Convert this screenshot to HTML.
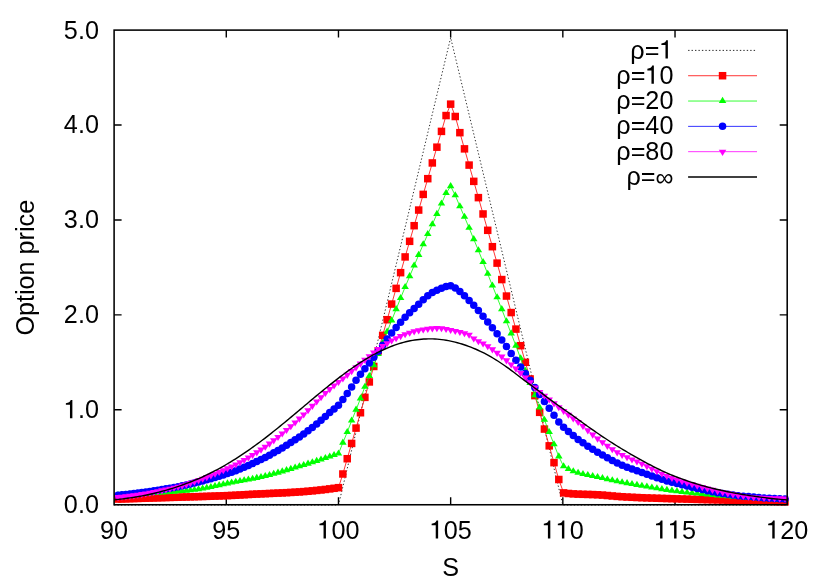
<!DOCTYPE html><html><head><meta charset="utf-8"><title>Option price</title><style>html,body{margin:0;padding:0;background:#fff}svg{display:block;will-change:transform}text{font-family:"Liberation Sans",sans-serif;font-size:25.2px;fill:#000}</style></head><body>
<svg width="830" height="581" viewBox="0 0 830 581">
<rect width="830" height="581" fill="#fff"/>
<path d="M226.28 504.75V497.25M226.28 30.1V37.6M338.47 504.75V497.25M338.47 30.1V37.6M450.65 504.75V497.25M450.65 30.1V37.6M562.83 504.75V497.25M562.83 30.1V37.6M675.02 504.75V497.25M675.02 30.1V37.6M114.1 409.82H121.6M787.2 409.82H779.7M114.1 314.89H121.6M787.2 314.89H779.7M114.1 219.96H121.6M787.2 219.96H779.7M114.1 125.03H121.6M787.2 125.03H779.7" stroke="#000" stroke-width="1.4" fill="none"/>
<text y="538.60" x="100.09 114.10">90</text>
<text y="538.60" x="212.27 226.28">95</text>
<text y="538.60" x="331.46 345.47">00</text><path transform="translate(317.44,538.60)" d="M8.5 0V-18.2H6.85C6.4-16.5 4.7-15.3 2-14.95V-13.4H6.1V0Z"/>
<text y="538.60" x="443.64 457.66">05</text><path transform="translate(429.63,538.60)" d="M8.5 0V-18.2H6.85C6.4-16.5 4.7-15.3 2-14.95V-13.4H6.1V0Z"/>
<text y="538.60" x="569.84">0</text><path transform="translate(541.81,538.60)" d="M8.5 0V-18.2H6.85C6.4-16.5 4.7-15.3 2-14.95V-13.4H6.1V0Z"/><path transform="translate(555.83,538.60)" d="M8.5 0V-18.2H6.85C6.4-16.5 4.7-15.3 2-14.95V-13.4H6.1V0Z"/>
<text y="538.60" x="682.02">5</text><path transform="translate(653.99,538.60)" d="M8.5 0V-18.2H6.85C6.4-16.5 4.7-15.3 2-14.95V-13.4H6.1V0Z"/><path transform="translate(668.01,538.60)" d="M8.5 0V-18.2H6.85C6.4-16.5 4.7-15.3 2-14.95V-13.4H6.1V0Z"/>
<text y="538.60" x="780.19 794.21">20</text><path transform="translate(766.18,538.60)" d="M8.5 0V-18.2H6.85C6.4-16.5 4.7-15.3 2-14.95V-13.4H6.1V0Z"/>
<text y="513.20" x="63.87 77.88 84.89">0.0</text>
<text y="418.27" x="77.88 84.89">.0</text><path transform="translate(63.87,418.27)" d="M8.5 0V-18.2H6.85C6.4-16.5 4.7-15.3 2-14.95V-13.4H6.1V0Z"/>
<text y="323.34" x="63.87 77.88 84.89">2.0</text>
<text y="228.41" x="63.87 77.88 84.89">3.0</text>
<text y="133.48" x="63.87 77.88 84.89">4.0</text>
<text y="38.55" x="63.87 77.88 84.89">5.0</text>
<text x="450.7" y="576.3" text-anchor="middle">S</text>
<text transform="translate(34.2,267.7) rotate(-90)" text-anchor="middle">Option price</text>
<g>
<polyline points="450.65,37.65 338.47,505.05 114.10,505.05" fill="none" stroke="#222" stroke-width="0.95" stroke-dasharray="1.3 2.15"/>
<polyline points="450.65,37.65 562.83,505.05 787.20,505.05" fill="none" stroke="#222" stroke-width="0.95" stroke-dasharray="1.3 2.15" stroke-dashoffset="1.7"/>
<polyline points="114.05,499.19 117.99,499.06 121.94,498.94 125.90,498.81 129.87,498.69 133.85,498.56 137.83,498.44 141.82,498.31 145.82,498.19 149.83,498.06 153.84,497.93 157.86,497.81 161.89,497.68 165.93,497.55 169.98,497.43 174.03,497.32 178.09,497.20 182.16,497.08 186.24,496.97 190.33,496.85 194.42,496.73 198.52,496.61 202.63,496.49 206.75,496.36 210.88,496.22 215.01,496.08 219.15,495.93 223.30,495.78 227.46,495.61 231.63,495.43 235.80,495.22 239.98,494.99 244.17,494.74 248.37,494.50 252.58,494.28 256.79,494.07 261.02,493.87 265.25,493.68 269.49,493.48 273.74,493.29 277.99,493.09 282.26,492.89 286.53,492.67 290.81,492.44 295.10,492.18 299.40,491.91 303.71,491.60 308.02,491.24 312.35,490.84 316.68,490.41 321.02,489.95 325.37,489.45 329.73,488.90 334.09,488.30 338.47,487.67 342.85,473.99 347.24,458.72 351.64,443.43 356.05,428.10 360.47,412.75 364.89,397.36 369.33,381.95 373.77,366.47 378.22,350.92 382.68,335.33 387.15,319.71 391.63,304.06 396.12,288.38 400.61,272.67 405.12,256.93 409.63,241.32 414.15,225.70 418.68,210.06 423.22,194.38 427.77,178.68 432.33,162.94 436.90,147.18 441.47,131.38 446.06,115.55 450.65,104.15 455.25,116.50 459.86,132.66 464.48,148.86 469.11,165.09 473.75,181.35 478.40,197.64 483.05,213.96 487.72,230.31 492.39,246.70 497.08,263.12 501.77,279.57 506.47,296.05 511.18,312.56 515.91,329.11 520.63,345.69 525.37,362.30 530.12,378.95 534.88,395.62 539.65,412.33 544.42,429.07 549.21,445.85 554.00,462.65 558.81,479.50 563.62,492.89 568.44,493.48 573.27,493.88 578.12,494.14 582.97,494.31 587.83,494.44 592.70,494.58 597.58,494.78 602.47,495.09 607.37,495.51 612.27,495.97 617.19,496.40 622.12,496.74 627.06,497.03 632.00,497.29 636.96,497.52 641.93,497.73 646.90,497.91 651.89,498.08 656.88,498.24 661.89,498.39 666.90,498.54 671.93,498.69 676.96,498.84 682.01,498.98 687.06,499.13 692.12,499.27 697.20,499.40 702.28,499.54 707.38,499.67 712.48,499.80 717.59,499.93 722.72,500.06 727.85,500.20 732.99,500.33 738.15,500.46 743.31,500.60 748.49,500.74 753.67,500.88 758.86,501.03 764.07,501.18 769.28,501.33 774.51,501.48 779.74,501.64 784.99,501.80" fill="none" stroke="#f00" stroke-width="0.8" />
<rect x="114.24" y="495.31" width="7.50" height="7.50" fill="#f00"/><rect x="118.19" y="495.19" width="7.50" height="7.50" fill="#f00"/><rect x="122.15" y="495.06" width="7.50" height="7.50" fill="#f00"/><rect x="126.12" y="494.94" width="7.50" height="7.50" fill="#f00"/><rect x="130.10" y="494.81" width="7.50" height="7.50" fill="#f00"/><rect x="134.08" y="494.69" width="7.50" height="7.50" fill="#f00"/><rect x="138.07" y="494.56" width="7.50" height="7.50" fill="#f00"/><rect x="142.07" y="494.44" width="7.50" height="7.50" fill="#f00"/><rect x="146.08" y="494.31" width="7.50" height="7.50" fill="#f00"/><rect x="150.09" y="494.18" width="7.50" height="7.50" fill="#f00"/><rect x="154.11" y="494.06" width="7.50" height="7.50" fill="#f00"/><rect x="158.14" y="493.93" width="7.50" height="7.50" fill="#f00"/><rect x="162.18" y="493.80" width="7.50" height="7.50" fill="#f00"/><rect x="166.23" y="493.68" width="7.50" height="7.50" fill="#f00"/><rect x="170.28" y="493.57" width="7.50" height="7.50" fill="#f00"/><rect x="174.34" y="493.45" width="7.50" height="7.50" fill="#f00"/><rect x="178.41" y="493.33" width="7.50" height="7.50" fill="#f00"/><rect x="182.49" y="493.22" width="7.50" height="7.50" fill="#f00"/><rect x="186.58" y="493.10" width="7.50" height="7.50" fill="#f00"/><rect x="190.67" y="492.98" width="7.50" height="7.50" fill="#f00"/><rect x="194.77" y="492.86" width="7.50" height="7.50" fill="#f00"/><rect x="198.88" y="492.74" width="7.50" height="7.50" fill="#f00"/><rect x="203.00" y="492.61" width="7.50" height="7.50" fill="#f00"/><rect x="207.13" y="492.47" width="7.50" height="7.50" fill="#f00"/><rect x="211.26" y="492.33" width="7.50" height="7.50" fill="#f00"/><rect x="215.40" y="492.18" width="7.50" height="7.50" fill="#f00"/><rect x="219.55" y="492.03" width="7.50" height="7.50" fill="#f00"/><rect x="223.71" y="491.86" width="7.50" height="7.50" fill="#f00"/><rect x="227.88" y="491.68" width="7.50" height="7.50" fill="#f00"/><rect x="232.05" y="491.47" width="7.50" height="7.50" fill="#f00"/><rect x="236.23" y="491.24" width="7.50" height="7.50" fill="#f00"/><rect x="240.42" y="490.99" width="7.50" height="7.50" fill="#f00"/><rect x="244.62" y="490.75" width="7.50" height="7.50" fill="#f00"/><rect x="248.83" y="490.53" width="7.50" height="7.50" fill="#f00"/><rect x="253.04" y="490.32" width="7.50" height="7.50" fill="#f00"/><rect x="257.27" y="490.12" width="7.50" height="7.50" fill="#f00"/><rect x="261.50" y="489.93" width="7.50" height="7.50" fill="#f00"/><rect x="265.74" y="489.73" width="7.50" height="7.50" fill="#f00"/><rect x="269.99" y="489.54" width="7.50" height="7.50" fill="#f00"/><rect x="274.24" y="489.34" width="7.50" height="7.50" fill="#f00"/><rect x="278.51" y="489.14" width="7.50" height="7.50" fill="#f00"/><rect x="282.78" y="488.92" width="7.50" height="7.50" fill="#f00"/><rect x="287.06" y="488.69" width="7.50" height="7.50" fill="#f00"/><rect x="291.35" y="488.43" width="7.50" height="7.50" fill="#f00"/><rect x="295.65" y="488.16" width="7.50" height="7.50" fill="#f00"/><rect x="299.96" y="487.85" width="7.50" height="7.50" fill="#f00"/><rect x="304.27" y="487.49" width="7.50" height="7.50" fill="#f00"/><rect x="308.60" y="487.09" width="7.50" height="7.50" fill="#f00"/><rect x="312.93" y="486.66" width="7.50" height="7.50" fill="#f00"/><rect x="317.27" y="486.20" width="7.50" height="7.50" fill="#f00"/><rect x="321.62" y="485.70" width="7.50" height="7.50" fill="#f00"/><rect x="325.98" y="485.15" width="7.50" height="7.50" fill="#f00"/><rect x="330.34" y="484.55" width="7.50" height="7.50" fill="#f00"/><rect x="334.72" y="483.92" width="7.50" height="7.50" fill="#f00"/><rect x="339.10" y="470.24" width="7.50" height="7.50" fill="#f00"/><rect x="343.49" y="454.97" width="7.50" height="7.50" fill="#f00"/><rect x="347.89" y="439.68" width="7.50" height="7.50" fill="#f00"/><rect x="352.30" y="424.35" width="7.50" height="7.50" fill="#f00"/><rect x="356.72" y="409.00" width="7.50" height="7.50" fill="#f00"/><rect x="361.14" y="393.61" width="7.50" height="7.50" fill="#f00"/><rect x="365.58" y="378.20" width="7.50" height="7.50" fill="#f00"/><rect x="370.02" y="362.72" width="7.50" height="7.50" fill="#f00"/><rect x="374.47" y="347.17" width="7.50" height="7.50" fill="#f00"/><rect x="378.93" y="331.58" width="7.50" height="7.50" fill="#f00"/><rect x="383.40" y="315.96" width="7.50" height="7.50" fill="#f00"/><rect x="387.88" y="300.31" width="7.50" height="7.50" fill="#f00"/><rect x="392.37" y="284.63" width="7.50" height="7.50" fill="#f00"/><rect x="396.86" y="268.92" width="7.50" height="7.50" fill="#f00"/><rect x="401.37" y="253.18" width="7.50" height="7.50" fill="#f00"/><rect x="405.88" y="237.57" width="7.50" height="7.50" fill="#f00"/><rect x="410.40" y="221.95" width="7.50" height="7.50" fill="#f00"/><rect x="414.93" y="206.31" width="7.50" height="7.50" fill="#f00"/><rect x="419.47" y="190.63" width="7.50" height="7.50" fill="#f00"/><rect x="424.02" y="174.93" width="7.50" height="7.50" fill="#f00"/><rect x="428.58" y="159.19" width="7.50" height="7.50" fill="#f00"/><rect x="433.15" y="143.43" width="7.50" height="7.50" fill="#f00"/><rect x="437.72" y="127.63" width="7.50" height="7.50" fill="#f00"/><rect x="442.31" y="111.80" width="7.50" height="7.50" fill="#f00"/><rect x="446.90" y="100.40" width="7.50" height="7.50" fill="#f00"/><rect x="451.50" y="112.75" width="7.50" height="7.50" fill="#f00"/><rect x="456.11" y="128.91" width="7.50" height="7.50" fill="#f00"/><rect x="460.73" y="145.11" width="7.50" height="7.50" fill="#f00"/><rect x="465.36" y="161.34" width="7.50" height="7.50" fill="#f00"/><rect x="470.00" y="177.60" width="7.50" height="7.50" fill="#f00"/><rect x="474.65" y="193.89" width="7.50" height="7.50" fill="#f00"/><rect x="479.30" y="210.21" width="7.50" height="7.50" fill="#f00"/><rect x="483.97" y="226.56" width="7.50" height="7.50" fill="#f00"/><rect x="488.64" y="242.95" width="7.50" height="7.50" fill="#f00"/><rect x="493.33" y="259.37" width="7.50" height="7.50" fill="#f00"/><rect x="498.02" y="275.82" width="7.50" height="7.50" fill="#f00"/><rect x="502.72" y="292.30" width="7.50" height="7.50" fill="#f00"/><rect x="507.43" y="308.81" width="7.50" height="7.50" fill="#f00"/><rect x="512.16" y="325.36" width="7.50" height="7.50" fill="#f00"/><rect x="516.88" y="341.94" width="7.50" height="7.50" fill="#f00"/><rect x="521.62" y="358.55" width="7.50" height="7.50" fill="#f00"/><rect x="526.37" y="375.20" width="7.50" height="7.50" fill="#f00"/><rect x="531.13" y="391.87" width="7.50" height="7.50" fill="#f00"/><rect x="535.90" y="408.58" width="7.50" height="7.50" fill="#f00"/><rect x="540.67" y="425.32" width="7.50" height="7.50" fill="#f00"/><rect x="545.46" y="442.10" width="7.50" height="7.50" fill="#f00"/><rect x="550.25" y="458.90" width="7.50" height="7.50" fill="#f00"/><rect x="555.06" y="475.75" width="7.50" height="7.50" fill="#f00"/><rect x="559.87" y="489.14" width="7.50" height="7.50" fill="#f00"/><rect x="564.69" y="489.73" width="7.50" height="7.50" fill="#f00"/><rect x="569.52" y="490.13" width="7.50" height="7.50" fill="#f00"/><rect x="574.37" y="490.39" width="7.50" height="7.50" fill="#f00"/><rect x="579.22" y="490.56" width="7.50" height="7.50" fill="#f00"/><rect x="584.08" y="490.69" width="7.50" height="7.50" fill="#f00"/><rect x="588.95" y="490.83" width="7.50" height="7.50" fill="#f00"/><rect x="593.83" y="491.03" width="7.50" height="7.50" fill="#f00"/><rect x="598.72" y="491.34" width="7.50" height="7.50" fill="#f00"/><rect x="603.62" y="491.76" width="7.50" height="7.50" fill="#f00"/><rect x="608.52" y="492.22" width="7.50" height="7.50" fill="#f00"/><rect x="613.44" y="492.65" width="7.50" height="7.50" fill="#f00"/><rect x="618.37" y="492.99" width="7.50" height="7.50" fill="#f00"/><rect x="623.31" y="493.28" width="7.50" height="7.50" fill="#f00"/><rect x="628.25" y="493.54" width="7.50" height="7.50" fill="#f00"/><rect x="633.21" y="493.77" width="7.50" height="7.50" fill="#f00"/><rect x="638.18" y="493.98" width="7.50" height="7.50" fill="#f00"/><rect x="643.15" y="494.16" width="7.50" height="7.50" fill="#f00"/><rect x="648.14" y="494.33" width="7.50" height="7.50" fill="#f00"/><rect x="653.13" y="494.49" width="7.50" height="7.50" fill="#f00"/><rect x="658.14" y="494.64" width="7.50" height="7.50" fill="#f00"/><rect x="663.15" y="494.79" width="7.50" height="7.50" fill="#f00"/><rect x="668.18" y="494.94" width="7.50" height="7.50" fill="#f00"/><rect x="673.21" y="495.09" width="7.50" height="7.50" fill="#f00"/><rect x="678.26" y="495.23" width="7.50" height="7.50" fill="#f00"/><rect x="683.31" y="495.38" width="7.50" height="7.50" fill="#f00"/><rect x="688.37" y="495.52" width="7.50" height="7.50" fill="#f00"/><rect x="693.45" y="495.65" width="7.50" height="7.50" fill="#f00"/><rect x="698.53" y="495.79" width="7.50" height="7.50" fill="#f00"/><rect x="703.63" y="495.92" width="7.50" height="7.50" fill="#f00"/><rect x="708.73" y="496.05" width="7.50" height="7.50" fill="#f00"/><rect x="713.84" y="496.18" width="7.50" height="7.50" fill="#f00"/><rect x="718.97" y="496.31" width="7.50" height="7.50" fill="#f00"/><rect x="724.10" y="496.45" width="7.50" height="7.50" fill="#f00"/><rect x="729.24" y="496.58" width="7.50" height="7.50" fill="#f00"/><rect x="734.40" y="496.71" width="7.50" height="7.50" fill="#f00"/><rect x="739.56" y="496.85" width="7.50" height="7.50" fill="#f00"/><rect x="744.74" y="496.99" width="7.50" height="7.50" fill="#f00"/><rect x="749.92" y="497.13" width="7.50" height="7.50" fill="#f00"/><rect x="755.11" y="497.28" width="7.50" height="7.50" fill="#f00"/><rect x="760.32" y="497.43" width="7.50" height="7.50" fill="#f00"/><rect x="765.53" y="497.58" width="7.50" height="7.50" fill="#f00"/><rect x="770.76" y="497.73" width="7.50" height="7.50" fill="#f00"/><rect x="775.99" y="497.89" width="7.50" height="7.50" fill="#f00"/><rect x="781.24" y="498.05" width="7.50" height="7.50" fill="#f00"/>
<polyline points="114.05,495.43 117.99,495.21 121.94,494.99 125.90,494.76 129.87,494.53 133.85,494.29 137.83,494.04 141.82,493.79 145.82,493.54 149.83,493.30 153.84,493.06 157.86,492.82 161.89,492.58 165.93,492.32 169.98,492.06 174.03,491.78 178.09,491.47 182.16,491.14 186.24,490.79 190.33,490.40 194.42,489.97 198.52,489.42 202.63,488.75 206.75,487.97 210.88,487.12 215.01,486.22 219.15,485.30 223.30,484.39 227.46,483.53 231.63,482.72 235.80,481.95 239.98,481.18 244.17,480.41 248.37,479.62 252.58,478.84 256.79,478.05 261.02,477.17 265.25,476.17 269.49,475.10 273.74,473.96 277.99,472.77 282.26,471.54 286.53,470.28 290.81,469.01 295.10,467.74 299.40,466.45 303.71,465.14 308.02,463.79 312.35,462.43 316.68,461.03 321.02,459.61 325.37,458.16 329.73,456.69 334.09,455.18 338.47,453.66 342.85,442.80 347.24,432.13 351.64,420.73 356.05,409.79 360.47,398.57 364.89,386.89 369.33,376.22 373.77,365.31 378.22,354.22 382.68,343.05 387.15,331.80 391.63,320.53 396.12,309.28 400.61,298.12 405.12,287.09 409.63,276.31 414.15,265.67 418.68,255.01 423.22,244.45 427.77,234.19 432.33,224.37 436.90,214.02 441.47,203.58 446.06,193.21 450.65,186.28 455.25,195.35 459.86,206.35 464.48,216.89 469.11,227.94 473.75,239.29 478.40,250.37 483.05,262.15 487.72,273.85 492.39,285.58 497.08,297.37 501.77,309.29 506.47,321.46 511.18,333.56 515.91,345.78 520.63,358.50 525.37,370.94 530.12,383.24 534.88,395.47 539.65,407.70 544.42,419.93 549.21,432.15 554.00,444.34 558.81,456.50 563.62,466.38 568.44,469.19 573.27,471.34 578.12,472.96 582.97,474.21 587.83,475.21 592.70,476.13 597.58,477.10 602.47,478.25 607.37,479.39 612.27,480.45 617.19,481.45 622.12,482.40 627.06,483.30 632.00,484.16 636.96,485.00 641.93,485.84 646.90,486.71 651.89,487.59 656.88,488.45 661.89,489.29 666.90,490.07 671.93,490.79 676.96,491.41 682.01,492.01 687.06,492.58 692.12,493.12 697.20,493.65 702.28,494.15 707.38,494.63 712.48,495.10 717.59,495.54 722.72,495.96 727.85,496.37 732.99,496.76 738.15,497.13 743.31,497.48 748.49,497.82 753.67,498.15 758.86,498.47 764.07,498.78 769.28,499.07 774.51,499.34 779.74,499.60 784.99,499.84" fill="none" stroke="#0f0" stroke-width="0.8" />
<path d="M117.99 491.01L114.24 497.09L121.74 497.09Z" fill="#0f0"/><path d="M121.94 490.79L118.19 496.87L125.69 496.87Z" fill="#0f0"/><path d="M125.90 490.56L122.15 496.64L129.65 496.64Z" fill="#0f0"/><path d="M129.87 490.33L126.12 496.40L133.62 496.40Z" fill="#0f0"/><path d="M133.85 490.09L130.10 496.16L137.60 496.16Z" fill="#0f0"/><path d="M137.83 489.84L134.08 495.92L141.58 495.92Z" fill="#0f0"/><path d="M141.82 489.59L138.07 495.66L145.57 495.66Z" fill="#0f0"/><path d="M145.82 489.34L142.07 495.42L149.57 495.42Z" fill="#0f0"/><path d="M149.83 489.10L146.08 495.17L153.58 495.17Z" fill="#0f0"/><path d="M153.84 488.86L150.09 494.94L157.59 494.94Z" fill="#0f0"/><path d="M157.86 488.62L154.11 494.70L161.61 494.70Z" fill="#0f0"/><path d="M161.89 488.38L158.14 494.45L165.64 494.45Z" fill="#0f0"/><path d="M165.93 488.12L162.18 494.20L169.68 494.20Z" fill="#0f0"/><path d="M169.98 487.86L166.23 493.93L173.73 493.93Z" fill="#0f0"/><path d="M174.03 487.58L170.28 493.65L177.78 493.65Z" fill="#0f0"/><path d="M178.09 487.27L174.34 493.35L181.84 493.35Z" fill="#0f0"/><path d="M182.16 486.94L178.41 493.02L185.91 493.02Z" fill="#0f0"/><path d="M186.24 486.59L182.49 492.66L189.99 492.66Z" fill="#0f0"/><path d="M190.33 486.20L186.58 492.27L194.08 492.27Z" fill="#0f0"/><path d="M194.42 485.77L190.67 491.84L198.17 491.84Z" fill="#0f0"/><path d="M198.52 485.22L194.77 491.30L202.27 491.30Z" fill="#0f0"/><path d="M202.63 484.55L198.88 490.62L206.38 490.62Z" fill="#0f0"/><path d="M206.75 483.77L203.00 489.85L210.50 489.85Z" fill="#0f0"/><path d="M210.88 482.92L207.13 488.99L214.63 488.99Z" fill="#0f0"/><path d="M215.01 482.02L211.26 488.09L218.76 488.09Z" fill="#0f0"/><path d="M219.15 481.10L215.40 487.18L222.90 487.18Z" fill="#0f0"/><path d="M223.30 480.19L219.55 486.27L227.05 486.27Z" fill="#0f0"/><path d="M227.46 479.33L223.71 485.40L231.21 485.40Z" fill="#0f0"/><path d="M231.63 478.52L227.88 484.60L235.38 484.60Z" fill="#0f0"/><path d="M235.80 477.75L232.05 483.82L239.55 483.82Z" fill="#0f0"/><path d="M239.98 476.98L236.23 483.05L243.73 483.05Z" fill="#0f0"/><path d="M244.17 476.21L240.42 482.28L247.92 482.28Z" fill="#0f0"/><path d="M248.37 475.42L244.62 481.50L252.12 481.50Z" fill="#0f0"/><path d="M252.58 474.64L248.83 480.71L256.33 480.71Z" fill="#0f0"/><path d="M256.79 473.85L253.04 479.93L260.54 479.93Z" fill="#0f0"/><path d="M261.02 472.97L257.27 479.04L264.77 479.04Z" fill="#0f0"/><path d="M265.25 471.97L261.50 478.05L269.00 478.05Z" fill="#0f0"/><path d="M269.49 470.90L265.74 476.98L273.24 476.98Z" fill="#0f0"/><path d="M273.74 469.76L269.99 475.84L277.49 475.84Z" fill="#0f0"/><path d="M277.99 468.57L274.24 474.65L281.74 474.65Z" fill="#0f0"/><path d="M282.26 467.34L278.51 473.42L286.01 473.42Z" fill="#0f0"/><path d="M286.53 466.08L282.78 472.16L290.28 472.16Z" fill="#0f0"/><path d="M290.81 464.81L287.06 470.89L294.56 470.89Z" fill="#0f0"/><path d="M295.10 463.54L291.35 469.62L298.85 469.62Z" fill="#0f0"/><path d="M299.40 462.25L295.65 468.33L303.15 468.33Z" fill="#0f0"/><path d="M303.71 460.94L299.96 467.01L307.46 467.01Z" fill="#0f0"/><path d="M308.02 459.59L304.27 465.67L311.77 465.67Z" fill="#0f0"/><path d="M312.35 458.23L308.60 464.30L316.10 464.30Z" fill="#0f0"/><path d="M316.68 456.83L312.93 462.91L320.43 462.91Z" fill="#0f0"/><path d="M321.02 455.41L317.27 461.49L324.77 461.49Z" fill="#0f0"/><path d="M325.37 453.96L321.62 460.04L329.12 460.04Z" fill="#0f0"/><path d="M329.73 452.49L325.98 458.56L333.48 458.56Z" fill="#0f0"/><path d="M334.09 450.98L330.34 457.06L337.84 457.06Z" fill="#0f0"/><path d="M338.47 449.46L334.72 455.53L342.22 455.53Z" fill="#0f0"/><path d="M342.85 438.60L339.10 444.68L346.60 444.68Z" fill="#0f0"/><path d="M347.24 427.93L343.49 434.01L350.99 434.01Z" fill="#0f0"/><path d="M351.64 416.53L347.89 422.60L355.39 422.60Z" fill="#0f0"/><path d="M356.05 405.59L352.30 411.67L359.80 411.67Z" fill="#0f0"/><path d="M360.47 394.37L356.72 400.44L364.22 400.44Z" fill="#0f0"/><path d="M364.89 382.69L361.14 388.76L368.64 388.76Z" fill="#0f0"/><path d="M369.33 372.02L365.58 378.09L373.08 378.09Z" fill="#0f0"/><path d="M373.77 361.11L370.02 367.19L377.52 367.19Z" fill="#0f0"/><path d="M378.22 350.02L374.47 356.10L381.97 356.10Z" fill="#0f0"/><path d="M382.68 338.85L378.93 344.92L386.43 344.92Z" fill="#0f0"/><path d="M387.15 327.60L383.40 333.67L390.90 333.67Z" fill="#0f0"/><path d="M391.63 316.33L387.88 322.40L395.38 322.40Z" fill="#0f0"/><path d="M396.12 305.08L392.37 311.16L399.87 311.16Z" fill="#0f0"/><path d="M400.61 293.92L396.86 299.99L404.36 299.99Z" fill="#0f0"/><path d="M405.12 282.89L401.37 288.97L408.87 288.97Z" fill="#0f0"/><path d="M409.63 272.11L405.88 278.19L413.38 278.19Z" fill="#0f0"/><path d="M414.15 261.47L410.40 267.54L417.90 267.54Z" fill="#0f0"/><path d="M418.68 250.81L414.93 256.89L422.43 256.89Z" fill="#0f0"/><path d="M423.22 240.25L419.47 246.33L426.97 246.33Z" fill="#0f0"/><path d="M427.77 229.99L424.02 236.07L431.52 236.07Z" fill="#0f0"/><path d="M432.33 220.17L428.58 226.24L436.08 226.24Z" fill="#0f0"/><path d="M436.90 209.82L433.15 215.90L440.65 215.90Z" fill="#0f0"/><path d="M441.47 199.38L437.72 205.45L445.22 205.45Z" fill="#0f0"/><path d="M446.06 189.01L442.31 195.08L449.81 195.08Z" fill="#0f0"/><path d="M450.65 182.08L446.90 188.15L454.40 188.15Z" fill="#0f0"/><path d="M455.25 191.15L451.50 197.23L459.00 197.23Z" fill="#0f0"/><path d="M459.86 202.15L456.11 208.22L463.61 208.22Z" fill="#0f0"/><path d="M464.48 212.69L460.73 218.77L468.23 218.77Z" fill="#0f0"/><path d="M469.11 223.74L465.36 229.81L472.86 229.81Z" fill="#0f0"/><path d="M473.75 235.09L470.00 241.16L477.50 241.16Z" fill="#0f0"/><path d="M478.40 246.17L474.65 252.25L482.15 252.25Z" fill="#0f0"/><path d="M483.05 257.95L479.30 264.02L486.80 264.02Z" fill="#0f0"/><path d="M487.72 269.65L483.97 275.73L491.47 275.73Z" fill="#0f0"/><path d="M492.39 281.38L488.64 287.45L496.14 287.45Z" fill="#0f0"/><path d="M497.08 293.17L493.33 299.24L500.83 299.24Z" fill="#0f0"/><path d="M501.77 305.09L498.02 311.16L505.52 311.16Z" fill="#0f0"/><path d="M506.47 317.26L502.72 323.33L510.22 323.33Z" fill="#0f0"/><path d="M511.18 329.36L507.43 335.43L514.93 335.43Z" fill="#0f0"/><path d="M515.91 341.58L512.16 347.65L519.66 347.65Z" fill="#0f0"/><path d="M520.63 354.30L516.88 360.37L524.38 360.37Z" fill="#0f0"/><path d="M525.37 366.74L521.62 372.81L529.12 372.81Z" fill="#0f0"/><path d="M530.12 379.04L526.37 385.11L533.87 385.11Z" fill="#0f0"/><path d="M534.88 391.27L531.13 397.34L538.63 397.34Z" fill="#0f0"/><path d="M539.65 403.50L535.90 409.57L543.40 409.57Z" fill="#0f0"/><path d="M544.42 415.73L540.67 421.81L548.17 421.81Z" fill="#0f0"/><path d="M549.21 427.95L545.46 434.02L552.96 434.02Z" fill="#0f0"/><path d="M554.00 440.14L550.25 446.21L557.75 446.21Z" fill="#0f0"/><path d="M558.81 452.31L555.06 458.38L562.56 458.38Z" fill="#0f0"/><path d="M563.62 462.19L559.87 468.26L567.37 468.26Z" fill="#0f0"/><path d="M568.44 464.99L564.69 471.07L572.19 471.07Z" fill="#0f0"/><path d="M573.27 467.14L569.52 473.21L577.02 473.21Z" fill="#0f0"/><path d="M578.12 468.76L574.37 474.84L581.87 474.84Z" fill="#0f0"/><path d="M582.97 470.01L579.22 476.08L586.72 476.08Z" fill="#0f0"/><path d="M587.83 471.01L584.08 477.09L591.58 477.09Z" fill="#0f0"/><path d="M592.70 471.93L588.95 478.00L596.45 478.00Z" fill="#0f0"/><path d="M597.58 472.90L593.83 478.97L601.33 478.97Z" fill="#0f0"/><path d="M602.47 474.05L598.72 480.12L606.22 480.12Z" fill="#0f0"/><path d="M607.37 475.19L603.62 481.26L611.12 481.26Z" fill="#0f0"/><path d="M612.27 476.25L608.52 482.32L616.02 482.32Z" fill="#0f0"/><path d="M617.19 477.25L613.44 483.32L620.94 483.32Z" fill="#0f0"/><path d="M622.12 478.20L618.37 484.28L625.87 484.28Z" fill="#0f0"/><path d="M627.06 479.10L623.31 485.18L630.81 485.18Z" fill="#0f0"/><path d="M632.00 479.96L628.25 486.04L635.75 486.04Z" fill="#0f0"/><path d="M636.96 480.80L633.21 486.88L640.71 486.88Z" fill="#0f0"/><path d="M641.93 481.64L638.18 487.72L645.68 487.72Z" fill="#0f0"/><path d="M646.90 482.51L643.15 488.59L650.65 488.59Z" fill="#0f0"/><path d="M651.89 483.39L648.14 489.46L655.64 489.46Z" fill="#0f0"/><path d="M656.88 484.25L653.13 490.33L660.63 490.33Z" fill="#0f0"/><path d="M661.89 485.09L658.14 491.16L665.64 491.16Z" fill="#0f0"/><path d="M666.90 485.87L663.15 491.95L670.65 491.95Z" fill="#0f0"/><path d="M671.93 486.59L668.18 492.66L675.68 492.66Z" fill="#0f0"/><path d="M676.96 487.21L673.21 493.29L680.71 493.29Z" fill="#0f0"/><path d="M682.01 487.81L678.26 493.88L685.76 493.88Z" fill="#0f0"/><path d="M687.06 488.38L683.31 494.45L690.81 494.45Z" fill="#0f0"/><path d="M692.12 488.92L688.37 495.00L695.87 495.00Z" fill="#0f0"/><path d="M697.20 489.45L693.45 495.52L700.95 495.52Z" fill="#0f0"/><path d="M702.28 489.95L698.53 496.03L706.03 496.03Z" fill="#0f0"/><path d="M707.38 490.43L703.63 496.51L711.13 496.51Z" fill="#0f0"/><path d="M712.48 490.90L708.73 496.97L716.23 496.97Z" fill="#0f0"/><path d="M717.59 491.34L713.84 497.42L721.34 497.42Z" fill="#0f0"/><path d="M722.72 491.76L718.97 497.84L726.47 497.84Z" fill="#0f0"/><path d="M727.85 492.17L724.10 498.24L731.60 498.24Z" fill="#0f0"/><path d="M732.99 492.56L729.24 498.63L736.74 498.63Z" fill="#0f0"/><path d="M738.15 492.93L734.40 499.00L741.90 499.00Z" fill="#0f0"/><path d="M743.31 493.28L739.56 499.35L747.06 499.35Z" fill="#0f0"/><path d="M748.49 493.62L744.74 499.70L752.24 499.70Z" fill="#0f0"/><path d="M753.67 493.95L749.92 500.03L757.42 500.03Z" fill="#0f0"/><path d="M758.86 494.27L755.11 500.35L762.61 500.35Z" fill="#0f0"/><path d="M764.07 494.58L760.32 500.65L767.82 500.65Z" fill="#0f0"/><path d="M769.28 494.87L765.53 500.94L773.03 500.94Z" fill="#0f0"/><path d="M774.51 495.14L770.76 501.22L778.26 501.22Z" fill="#0f0"/><path d="M779.74 495.40L775.99 501.47L783.49 501.47Z" fill="#0f0"/><path d="M784.99 495.64L781.24 501.71L788.74 501.71Z" fill="#0f0"/>
<polyline points="114.05,495.49 117.99,495.18 121.94,494.83 125.90,494.44 129.87,494.02 133.85,493.55 137.83,493.06 141.82,492.53 145.82,491.97 149.83,491.39 153.84,490.78 157.86,490.15 161.89,489.50 165.93,488.82 169.98,488.14 174.03,487.42 178.09,486.64 182.16,485.82 186.24,484.94 190.33,484.02 194.42,483.04 198.52,482.02 202.63,480.95 206.75,479.83 210.88,478.67 215.01,477.47 219.15,476.23 223.30,474.94 227.46,473.61 231.63,472.24 235.80,470.72 239.98,469.07 244.17,467.30 248.37,465.43 252.58,463.50 256.79,461.51 261.02,459.50 265.25,457.38 269.49,455.13 273.74,452.80 277.99,450.40 282.26,447.89 286.53,445.29 290.81,442.60 295.10,439.80 299.40,436.89 303.71,433.90 308.02,430.77 312.35,427.44 316.68,423.88 321.02,420.21 325.37,416.42 329.73,412.61 334.09,408.92 338.47,405.30 342.85,399.59 347.24,393.61 351.64,387.00 356.05,380.16 360.47,374.31 364.89,368.79 369.33,363.00 373.77,357.14 378.22,351.32 382.68,345.28 387.15,339.08 391.63,333.02 396.12,327.40 400.61,322.16 405.12,317.25 409.63,312.77 414.15,308.58 418.68,304.28 423.22,299.73 427.77,295.66 432.33,292.58 436.90,290.19 441.47,288.16 446.06,286.55 450.65,285.79 455.25,287.88 459.86,291.59 464.48,295.86 469.11,300.51 473.75,305.36 478.40,310.58 483.05,316.19 487.72,322.08 492.39,327.78 497.08,333.86 501.77,340.04 506.47,346.59 511.18,353.62 515.91,360.27 520.63,367.01 525.37,373.48 530.12,380.13 534.88,387.53 539.65,394.47 544.42,401.38 549.21,408.28 554.00,415.16 558.81,422.02 563.62,427.15 568.44,431.52 573.27,435.51 578.12,439.50 582.97,442.82 587.83,446.15 592.70,449.26 597.58,452.24 602.47,455.08 607.37,457.85 612.27,460.51 617.19,462.99 622.12,465.19 627.06,467.19 632.00,469.04 636.96,470.81 641.93,472.55 646.90,474.30 651.89,476.03 656.88,477.73 661.89,479.36 666.90,480.89 671.93,482.31 676.96,483.59 682.01,484.84 687.06,486.07 692.12,487.28 697.20,488.46 702.28,489.60 707.38,490.69 712.48,491.71 717.59,492.68 722.72,493.56 727.85,494.35 732.99,495.05 738.15,495.64 743.31,496.14 748.49,496.62 753.67,497.09 758.86,497.53 764.07,497.94 769.28,498.30 774.51,498.61 779.74,498.86 784.99,499.05" fill="none" stroke="#00f" stroke-width="0.8" />
<circle cx="117.99" cy="495.18" r="3.75" fill="#00f"/><circle cx="121.94" cy="494.83" r="3.75" fill="#00f"/><circle cx="125.90" cy="494.44" r="3.75" fill="#00f"/><circle cx="129.87" cy="494.02" r="3.75" fill="#00f"/><circle cx="133.85" cy="493.55" r="3.75" fill="#00f"/><circle cx="137.83" cy="493.06" r="3.75" fill="#00f"/><circle cx="141.82" cy="492.53" r="3.75" fill="#00f"/><circle cx="145.82" cy="491.97" r="3.75" fill="#00f"/><circle cx="149.83" cy="491.39" r="3.75" fill="#00f"/><circle cx="153.84" cy="490.78" r="3.75" fill="#00f"/><circle cx="157.86" cy="490.15" r="3.75" fill="#00f"/><circle cx="161.89" cy="489.50" r="3.75" fill="#00f"/><circle cx="165.93" cy="488.82" r="3.75" fill="#00f"/><circle cx="169.98" cy="488.14" r="3.75" fill="#00f"/><circle cx="174.03" cy="487.42" r="3.75" fill="#00f"/><circle cx="178.09" cy="486.64" r="3.75" fill="#00f"/><circle cx="182.16" cy="485.82" r="3.75" fill="#00f"/><circle cx="186.24" cy="484.94" r="3.75" fill="#00f"/><circle cx="190.33" cy="484.02" r="3.75" fill="#00f"/><circle cx="194.42" cy="483.04" r="3.75" fill="#00f"/><circle cx="198.52" cy="482.02" r="3.75" fill="#00f"/><circle cx="202.63" cy="480.95" r="3.75" fill="#00f"/><circle cx="206.75" cy="479.83" r="3.75" fill="#00f"/><circle cx="210.88" cy="478.67" r="3.75" fill="#00f"/><circle cx="215.01" cy="477.47" r="3.75" fill="#00f"/><circle cx="219.15" cy="476.23" r="3.75" fill="#00f"/><circle cx="223.30" cy="474.94" r="3.75" fill="#00f"/><circle cx="227.46" cy="473.61" r="3.75" fill="#00f"/><circle cx="231.63" cy="472.24" r="3.75" fill="#00f"/><circle cx="235.80" cy="470.72" r="3.75" fill="#00f"/><circle cx="239.98" cy="469.07" r="3.75" fill="#00f"/><circle cx="244.17" cy="467.30" r="3.75" fill="#00f"/><circle cx="248.37" cy="465.43" r="3.75" fill="#00f"/><circle cx="252.58" cy="463.50" r="3.75" fill="#00f"/><circle cx="256.79" cy="461.51" r="3.75" fill="#00f"/><circle cx="261.02" cy="459.50" r="3.75" fill="#00f"/><circle cx="265.25" cy="457.38" r="3.75" fill="#00f"/><circle cx="269.49" cy="455.13" r="3.75" fill="#00f"/><circle cx="273.74" cy="452.80" r="3.75" fill="#00f"/><circle cx="277.99" cy="450.40" r="3.75" fill="#00f"/><circle cx="282.26" cy="447.89" r="3.75" fill="#00f"/><circle cx="286.53" cy="445.29" r="3.75" fill="#00f"/><circle cx="290.81" cy="442.60" r="3.75" fill="#00f"/><circle cx="295.10" cy="439.80" r="3.75" fill="#00f"/><circle cx="299.40" cy="436.89" r="3.75" fill="#00f"/><circle cx="303.71" cy="433.90" r="3.75" fill="#00f"/><circle cx="308.02" cy="430.77" r="3.75" fill="#00f"/><circle cx="312.35" cy="427.44" r="3.75" fill="#00f"/><circle cx="316.68" cy="423.88" r="3.75" fill="#00f"/><circle cx="321.02" cy="420.21" r="3.75" fill="#00f"/><circle cx="325.37" cy="416.42" r="3.75" fill="#00f"/><circle cx="329.73" cy="412.61" r="3.75" fill="#00f"/><circle cx="334.09" cy="408.92" r="3.75" fill="#00f"/><circle cx="338.47" cy="405.30" r="3.75" fill="#00f"/><circle cx="342.85" cy="399.59" r="3.75" fill="#00f"/><circle cx="347.24" cy="393.61" r="3.75" fill="#00f"/><circle cx="351.64" cy="387.00" r="3.75" fill="#00f"/><circle cx="356.05" cy="380.16" r="3.75" fill="#00f"/><circle cx="360.47" cy="374.31" r="3.75" fill="#00f"/><circle cx="364.89" cy="368.79" r="3.75" fill="#00f"/><circle cx="369.33" cy="363.00" r="3.75" fill="#00f"/><circle cx="373.77" cy="357.14" r="3.75" fill="#00f"/><circle cx="378.22" cy="351.32" r="3.75" fill="#00f"/><circle cx="382.68" cy="345.28" r="3.75" fill="#00f"/><circle cx="387.15" cy="339.08" r="3.75" fill="#00f"/><circle cx="391.63" cy="333.02" r="3.75" fill="#00f"/><circle cx="396.12" cy="327.40" r="3.75" fill="#00f"/><circle cx="400.61" cy="322.16" r="3.75" fill="#00f"/><circle cx="405.12" cy="317.25" r="3.75" fill="#00f"/><circle cx="409.63" cy="312.77" r="3.75" fill="#00f"/><circle cx="414.15" cy="308.58" r="3.75" fill="#00f"/><circle cx="418.68" cy="304.28" r="3.75" fill="#00f"/><circle cx="423.22" cy="299.73" r="3.75" fill="#00f"/><circle cx="427.77" cy="295.66" r="3.75" fill="#00f"/><circle cx="432.33" cy="292.58" r="3.75" fill="#00f"/><circle cx="436.90" cy="290.19" r="3.75" fill="#00f"/><circle cx="441.47" cy="288.16" r="3.75" fill="#00f"/><circle cx="446.06" cy="286.55" r="3.75" fill="#00f"/><circle cx="450.65" cy="285.79" r="3.75" fill="#00f"/><circle cx="455.25" cy="287.88" r="3.75" fill="#00f"/><circle cx="459.86" cy="291.59" r="3.75" fill="#00f"/><circle cx="464.48" cy="295.86" r="3.75" fill="#00f"/><circle cx="469.11" cy="300.51" r="3.75" fill="#00f"/><circle cx="473.75" cy="305.36" r="3.75" fill="#00f"/><circle cx="478.40" cy="310.58" r="3.75" fill="#00f"/><circle cx="483.05" cy="316.19" r="3.75" fill="#00f"/><circle cx="487.72" cy="322.08" r="3.75" fill="#00f"/><circle cx="492.39" cy="327.78" r="3.75" fill="#00f"/><circle cx="497.08" cy="333.86" r="3.75" fill="#00f"/><circle cx="501.77" cy="340.04" r="3.75" fill="#00f"/><circle cx="506.47" cy="346.59" r="3.75" fill="#00f"/><circle cx="511.18" cy="353.62" r="3.75" fill="#00f"/><circle cx="515.91" cy="360.27" r="3.75" fill="#00f"/><circle cx="520.63" cy="367.01" r="3.75" fill="#00f"/><circle cx="525.37" cy="373.48" r="3.75" fill="#00f"/><circle cx="530.12" cy="380.13" r="3.75" fill="#00f"/><circle cx="534.88" cy="387.53" r="3.75" fill="#00f"/><circle cx="539.65" cy="394.47" r="3.75" fill="#00f"/><circle cx="544.42" cy="401.38" r="3.75" fill="#00f"/><circle cx="549.21" cy="408.28" r="3.75" fill="#00f"/><circle cx="554.00" cy="415.16" r="3.75" fill="#00f"/><circle cx="558.81" cy="422.02" r="3.75" fill="#00f"/><circle cx="563.62" cy="427.15" r="3.75" fill="#00f"/><circle cx="568.44" cy="431.52" r="3.75" fill="#00f"/><circle cx="573.27" cy="435.51" r="3.75" fill="#00f"/><circle cx="578.12" cy="439.50" r="3.75" fill="#00f"/><circle cx="582.97" cy="442.82" r="3.75" fill="#00f"/><circle cx="587.83" cy="446.15" r="3.75" fill="#00f"/><circle cx="592.70" cy="449.26" r="3.75" fill="#00f"/><circle cx="597.58" cy="452.24" r="3.75" fill="#00f"/><circle cx="602.47" cy="455.08" r="3.75" fill="#00f"/><circle cx="607.37" cy="457.85" r="3.75" fill="#00f"/><circle cx="612.27" cy="460.51" r="3.75" fill="#00f"/><circle cx="617.19" cy="462.99" r="3.75" fill="#00f"/><circle cx="622.12" cy="465.19" r="3.75" fill="#00f"/><circle cx="627.06" cy="467.19" r="3.75" fill="#00f"/><circle cx="632.00" cy="469.04" r="3.75" fill="#00f"/><circle cx="636.96" cy="470.81" r="3.75" fill="#00f"/><circle cx="641.93" cy="472.55" r="3.75" fill="#00f"/><circle cx="646.90" cy="474.30" r="3.75" fill="#00f"/><circle cx="651.89" cy="476.03" r="3.75" fill="#00f"/><circle cx="656.88" cy="477.73" r="3.75" fill="#00f"/><circle cx="661.89" cy="479.36" r="3.75" fill="#00f"/><circle cx="666.90" cy="480.89" r="3.75" fill="#00f"/><circle cx="671.93" cy="482.31" r="3.75" fill="#00f"/><circle cx="676.96" cy="483.59" r="3.75" fill="#00f"/><circle cx="682.01" cy="484.84" r="3.75" fill="#00f"/><circle cx="687.06" cy="486.07" r="3.75" fill="#00f"/><circle cx="692.12" cy="487.28" r="3.75" fill="#00f"/><circle cx="697.20" cy="488.46" r="3.75" fill="#00f"/><circle cx="702.28" cy="489.60" r="3.75" fill="#00f"/><circle cx="707.38" cy="490.69" r="3.75" fill="#00f"/><circle cx="712.48" cy="491.71" r="3.75" fill="#00f"/><circle cx="717.59" cy="492.68" r="3.75" fill="#00f"/><circle cx="722.72" cy="493.56" r="3.75" fill="#00f"/><circle cx="727.85" cy="494.35" r="3.75" fill="#00f"/><circle cx="732.99" cy="495.05" r="3.75" fill="#00f"/><circle cx="738.15" cy="495.64" r="3.75" fill="#00f"/><circle cx="743.31" cy="496.14" r="3.75" fill="#00f"/><circle cx="748.49" cy="496.62" r="3.75" fill="#00f"/><circle cx="753.67" cy="497.09" r="3.75" fill="#00f"/><circle cx="758.86" cy="497.53" r="3.75" fill="#00f"/><circle cx="764.07" cy="497.94" r="3.75" fill="#00f"/><circle cx="769.28" cy="498.30" r="3.75" fill="#00f"/><circle cx="774.51" cy="498.61" r="3.75" fill="#00f"/><circle cx="779.74" cy="498.86" r="3.75" fill="#00f"/><circle cx="784.99" cy="499.05" r="3.75" fill="#00f"/>
<polyline points="114.05,497.23 117.99,496.95 121.94,496.60 125.90,496.19 129.87,495.71 133.85,495.18 137.83,494.60 141.82,493.96 145.82,493.28 149.83,492.56 153.84,491.81 157.86,491.02 161.89,490.21 165.93,489.37 169.98,488.52 174.03,487.60 178.09,486.58 182.16,485.47 186.24,484.26 190.33,482.96 194.42,481.58 198.52,480.12 202.63,478.59 206.75,476.99 210.88,475.34 215.01,473.63 219.15,471.87 223.30,470.07 227.46,468.23 231.63,466.35 235.80,464.33 239.98,462.16 244.17,459.85 248.37,457.40 252.58,454.84 256.79,452.18 261.02,449.43 265.25,446.51 269.49,443.43 273.74,440.19 277.99,436.82 282.26,433.34 286.53,429.77 290.81,426.12 295.10,422.41 299.40,418.48 303.71,414.34 308.02,410.06 312.35,405.71 316.68,401.35 321.02,397.06 325.37,392.90 329.73,388.96 334.09,385.27 338.47,381.75 342.85,378.27 347.24,374.70 351.64,371.00 356.05,367.25 360.47,363.48 364.89,359.75 369.33,356.01 373.77,352.42 378.22,348.97 382.68,345.90 387.15,343.02 391.63,340.36 396.12,338.01 400.61,335.99 405.12,334.14 409.63,332.53 414.15,331.24 418.68,330.19 423.22,329.31 427.77,328.68 432.33,328.24 436.90,327.93 441.47,328.01 446.06,328.90 450.65,329.83 455.25,330.85 459.86,331.92 464.48,333.02 469.11,334.62 473.75,338.32 478.40,341.08 483.05,343.38 487.72,346.05 492.39,349.24 497.08,352.74 501.77,356.43 506.47,360.25 511.18,364.28 515.91,368.49 520.63,372.85 525.37,377.39 530.12,382.19 534.88,387.43 539.65,391.92 544.42,395.62 549.21,399.38 554.00,403.20 558.81,407.01 563.62,410.81 568.44,414.58 573.27,418.25 578.12,421.89 582.97,425.85 587.83,430.18 592.70,434.50 597.58,438.44 602.47,442.16 607.37,445.74 612.27,449.11 617.19,452.18 622.12,454.85 627.06,457.15 632.00,459.25 636.96,461.34 641.93,463.57 646.90,466.00 651.89,468.53 656.88,471.07 661.89,473.52 666.90,475.79 671.93,477.79 676.96,479.44 682.01,481.00 687.06,482.55 692.12,484.07 697.20,485.55 702.28,486.99 707.38,488.38 712.48,489.71 717.59,490.97 722.72,492.15 727.85,493.24 732.99,494.23 738.15,495.12 743.31,495.88 748.49,496.53 753.67,497.03 758.86,497.39 764.07,497.64 769.28,497.86 774.51,498.07 779.74,498.23 784.99,498.34" fill="none" stroke="#f0f" stroke-width="0.8" />
<path d="M117.99 501.15L114.24 495.08L121.74 495.08Z" fill="#f0f"/><path d="M121.94 500.80L118.19 494.73L125.69 494.73Z" fill="#f0f"/><path d="M125.90 500.39L122.15 494.31L129.65 494.31Z" fill="#f0f"/><path d="M129.87 499.91L126.12 493.84L133.62 493.84Z" fill="#f0f"/><path d="M133.85 499.38L130.10 493.31L137.60 493.31Z" fill="#f0f"/><path d="M137.83 498.80L134.08 492.72L141.58 492.72Z" fill="#f0f"/><path d="M141.82 498.16L138.07 492.09L145.57 492.09Z" fill="#f0f"/><path d="M145.82 497.48L142.07 491.41L149.57 491.41Z" fill="#f0f"/><path d="M149.83 496.76L146.08 490.69L153.58 490.69Z" fill="#f0f"/><path d="M153.84 496.01L150.09 489.93L157.59 489.93Z" fill="#f0f"/><path d="M157.86 495.22L154.11 489.15L161.61 489.15Z" fill="#f0f"/><path d="M161.89 494.41L158.14 488.33L165.64 488.33Z" fill="#f0f"/><path d="M165.93 493.57L162.18 487.50L169.68 487.50Z" fill="#f0f"/><path d="M169.98 492.72L166.23 486.64L173.73 486.64Z" fill="#f0f"/><path d="M174.03 491.80L170.28 485.73L177.78 485.73Z" fill="#f0f"/><path d="M178.09 490.78L174.34 484.71L181.84 484.71Z" fill="#f0f"/><path d="M182.16 489.67L178.41 483.59L185.91 483.59Z" fill="#f0f"/><path d="M186.24 488.46L182.49 482.38L189.99 482.38Z" fill="#f0f"/><path d="M190.33 487.16L186.58 481.08L194.08 481.08Z" fill="#f0f"/><path d="M194.42 485.78L190.67 479.70L198.17 479.70Z" fill="#f0f"/><path d="M198.52 484.32L194.77 478.24L202.27 478.24Z" fill="#f0f"/><path d="M202.63 482.79L198.88 476.71L206.38 476.71Z" fill="#f0f"/><path d="M206.75 481.19L203.00 475.12L210.50 475.12Z" fill="#f0f"/><path d="M210.88 479.54L207.13 473.46L214.63 473.46Z" fill="#f0f"/><path d="M215.01 477.83L211.26 471.75L218.76 471.75Z" fill="#f0f"/><path d="M219.15 476.07L215.40 470.00L222.90 470.00Z" fill="#f0f"/><path d="M223.30 474.27L219.55 468.19L227.05 468.19Z" fill="#f0f"/><path d="M227.46 472.43L223.71 466.36L231.21 466.36Z" fill="#f0f"/><path d="M231.63 470.55L227.88 464.48L235.38 464.48Z" fill="#f0f"/><path d="M235.80 468.53L232.05 462.46L239.55 462.46Z" fill="#f0f"/><path d="M239.98 466.36L236.23 460.29L243.73 460.29Z" fill="#f0f"/><path d="M244.17 464.05L240.42 457.97L247.92 457.97Z" fill="#f0f"/><path d="M248.37 461.60L244.62 455.53L252.12 455.53Z" fill="#f0f"/><path d="M252.58 459.04L248.83 452.97L256.33 452.97Z" fill="#f0f"/><path d="M256.79 456.38L253.04 450.31L260.54 450.31Z" fill="#f0f"/><path d="M261.02 453.63L257.27 447.55L264.77 447.55Z" fill="#f0f"/><path d="M265.25 450.71L261.50 444.64L269.00 444.64Z" fill="#f0f"/><path d="M269.49 447.63L265.74 441.55L273.24 441.55Z" fill="#f0f"/><path d="M273.74 444.39L269.99 438.32L277.49 438.32Z" fill="#f0f"/><path d="M277.99 441.02L274.24 434.95L281.74 434.95Z" fill="#f0f"/><path d="M282.26 437.54L278.51 431.47L286.01 431.47Z" fill="#f0f"/><path d="M286.53 433.97L282.78 427.89L290.28 427.89Z" fill="#f0f"/><path d="M290.81 430.32L287.06 424.25L294.56 424.25Z" fill="#f0f"/><path d="M295.10 426.61L291.35 420.53L298.85 420.53Z" fill="#f0f"/><path d="M299.40 422.68L295.65 416.60L303.15 416.60Z" fill="#f0f"/><path d="M303.71 418.54L299.96 412.46L307.46 412.46Z" fill="#f0f"/><path d="M308.02 414.26L304.27 408.18L311.77 408.18Z" fill="#f0f"/><path d="M312.35 409.91L308.60 403.83L316.10 403.83Z" fill="#f0f"/><path d="M316.68 405.55L312.93 399.47L320.43 399.47Z" fill="#f0f"/><path d="M321.02 401.26L317.27 395.18L324.77 395.18Z" fill="#f0f"/><path d="M325.37 397.10L321.62 391.03L329.12 391.03Z" fill="#f0f"/><path d="M329.73 393.16L325.98 387.08L333.48 387.08Z" fill="#f0f"/><path d="M334.09 389.47L330.34 383.39L337.84 383.39Z" fill="#f0f"/><path d="M338.47 385.95L334.72 379.88L342.22 379.88Z" fill="#f0f"/><path d="M342.85 382.47L339.10 376.40L346.60 376.40Z" fill="#f0f"/><path d="M347.24 378.90L343.49 372.82L350.99 372.82Z" fill="#f0f"/><path d="M351.64 375.20L347.89 369.12L355.39 369.12Z" fill="#f0f"/><path d="M356.05 371.45L352.30 365.37L359.80 365.37Z" fill="#f0f"/><path d="M360.47 367.68L356.72 361.61L364.22 361.61Z" fill="#f0f"/><path d="M364.89 363.95L361.14 357.87L368.64 357.87Z" fill="#f0f"/><path d="M369.33 360.21L365.58 354.14L373.08 354.14Z" fill="#f0f"/><path d="M373.77 356.62L370.02 350.55L377.52 350.55Z" fill="#f0f"/><path d="M378.22 353.17L374.47 347.10L381.97 347.10Z" fill="#f0f"/><path d="M382.68 350.10L378.93 344.02L386.43 344.02Z" fill="#f0f"/><path d="M387.15 347.22L383.40 341.14L390.90 341.14Z" fill="#f0f"/><path d="M391.63 344.56L387.88 338.48L395.38 338.48Z" fill="#f0f"/><path d="M396.12 342.21L392.37 336.13L399.87 336.13Z" fill="#f0f"/><path d="M400.61 340.19L396.86 334.11L404.36 334.11Z" fill="#f0f"/><path d="M405.12 338.34L401.37 332.27L408.87 332.27Z" fill="#f0f"/><path d="M409.63 336.73L405.88 330.66L413.38 330.66Z" fill="#f0f"/><path d="M414.15 335.44L410.40 329.36L417.90 329.36Z" fill="#f0f"/><path d="M418.68 334.39L414.93 328.31L422.43 328.31Z" fill="#f0f"/><path d="M423.22 333.51L419.47 327.43L426.97 327.43Z" fill="#f0f"/><path d="M427.77 332.88L424.02 326.80L431.52 326.80Z" fill="#f0f"/><path d="M432.33 332.44L428.58 326.37L436.08 326.37Z" fill="#f0f"/><path d="M436.90 332.13L433.15 326.06L440.65 326.06Z" fill="#f0f"/><path d="M441.47 332.21L437.72 326.14L445.22 326.14Z" fill="#f0f"/><path d="M446.06 333.10L442.31 327.03L449.81 327.03Z" fill="#f0f"/><path d="M450.65 334.03L446.90 327.96L454.40 327.96Z" fill="#f0f"/><path d="M455.25 335.05L451.50 328.98L459.00 328.98Z" fill="#f0f"/><path d="M459.86 336.12L456.11 330.05L463.61 330.05Z" fill="#f0f"/><path d="M464.48 337.22L460.73 331.14L468.23 331.14Z" fill="#f0f"/><path d="M469.11 338.82L465.36 332.75L472.86 332.75Z" fill="#f0f"/><path d="M473.75 342.52L470.00 336.44L477.50 336.44Z" fill="#f0f"/><path d="M478.40 345.28L474.65 339.20L482.15 339.20Z" fill="#f0f"/><path d="M483.05 347.58L479.30 341.51L486.80 341.51Z" fill="#f0f"/><path d="M487.72 350.25L483.97 344.18L491.47 344.18Z" fill="#f0f"/><path d="M492.39 353.44L488.64 347.37L496.14 347.37Z" fill="#f0f"/><path d="M497.08 356.94L493.33 350.87L500.83 350.87Z" fill="#f0f"/><path d="M501.77 360.63L498.02 354.56L505.52 354.56Z" fill="#f0f"/><path d="M506.47 364.45L502.72 358.37L510.22 358.37Z" fill="#f0f"/><path d="M511.18 368.48L507.43 362.40L514.93 362.40Z" fill="#f0f"/><path d="M515.91 372.69L512.16 366.62L519.66 366.62Z" fill="#f0f"/><path d="M520.63 377.05L516.88 370.97L524.38 370.97Z" fill="#f0f"/><path d="M525.37 381.59L521.62 375.52L529.12 375.52Z" fill="#f0f"/><path d="M530.12 386.39L526.37 380.31L533.87 380.31Z" fill="#f0f"/><path d="M534.88 391.63L531.13 385.56L538.63 385.56Z" fill="#f0f"/><path d="M539.65 396.12L535.90 390.04L543.40 390.04Z" fill="#f0f"/><path d="M544.42 399.82L540.67 393.74L548.17 393.74Z" fill="#f0f"/><path d="M549.21 403.58L545.46 397.50L552.96 397.50Z" fill="#f0f"/><path d="M554.00 407.40L550.25 401.32L557.75 401.32Z" fill="#f0f"/><path d="M558.81 411.21L555.06 405.13L562.56 405.13Z" fill="#f0f"/><path d="M563.62 415.01L559.87 408.93L567.37 408.93Z" fill="#f0f"/><path d="M568.44 418.78L564.69 412.71L572.19 412.71Z" fill="#f0f"/><path d="M573.27 422.45L569.52 416.38L577.02 416.38Z" fill="#f0f"/><path d="M578.12 426.09L574.37 420.02L581.87 420.02Z" fill="#f0f"/><path d="M582.97 430.05L579.22 423.98L586.72 423.98Z" fill="#f0f"/><path d="M587.83 434.38L584.08 428.30L591.58 428.30Z" fill="#f0f"/><path d="M592.70 438.70L588.95 432.62L596.45 432.62Z" fill="#f0f"/><path d="M597.58 442.64L593.83 436.56L601.33 436.56Z" fill="#f0f"/><path d="M602.47 446.36L598.72 440.28L606.22 440.28Z" fill="#f0f"/><path d="M607.37 449.94L603.62 443.87L611.12 443.87Z" fill="#f0f"/><path d="M612.27 453.31L608.52 447.24L616.02 447.24Z" fill="#f0f"/><path d="M617.19 456.38L613.44 450.30L620.94 450.30Z" fill="#f0f"/><path d="M622.12 459.05L618.37 452.97L625.87 452.97Z" fill="#f0f"/><path d="M627.06 461.35L623.31 455.28L630.81 455.28Z" fill="#f0f"/><path d="M632.00 463.45L628.25 457.38L635.75 457.38Z" fill="#f0f"/><path d="M636.96 465.54L633.21 459.46L640.71 459.46Z" fill="#f0f"/><path d="M641.93 467.77L638.18 461.70L645.68 461.70Z" fill="#f0f"/><path d="M646.90 470.20L643.15 464.13L650.65 464.13Z" fill="#f0f"/><path d="M651.89 472.73L648.14 466.65L655.64 466.65Z" fill="#f0f"/><path d="M656.88 475.27L653.13 469.19L660.63 469.19Z" fill="#f0f"/><path d="M661.89 477.72L658.14 471.65L665.64 471.65Z" fill="#f0f"/><path d="M666.90 479.99L663.15 473.92L670.65 473.92Z" fill="#f0f"/><path d="M671.93 481.99L668.18 475.91L675.68 475.91Z" fill="#f0f"/><path d="M676.96 483.64L673.21 477.56L680.71 477.56Z" fill="#f0f"/><path d="M682.01 485.20L678.26 479.13L685.76 479.13Z" fill="#f0f"/><path d="M687.06 486.75L683.31 480.67L690.81 480.67Z" fill="#f0f"/><path d="M692.12 488.27L688.37 482.19L695.87 482.19Z" fill="#f0f"/><path d="M697.20 489.75L693.45 483.68L700.95 483.68Z" fill="#f0f"/><path d="M702.28 491.19L698.53 485.12L706.03 485.12Z" fill="#f0f"/><path d="M707.38 492.58L703.63 486.51L711.13 486.51Z" fill="#f0f"/><path d="M712.48 493.91L708.73 487.84L716.23 487.84Z" fill="#f0f"/><path d="M717.59 495.17L713.84 489.10L721.34 489.10Z" fill="#f0f"/><path d="M722.72 496.35L718.97 490.27L726.47 490.27Z" fill="#f0f"/><path d="M727.85 497.44L724.10 491.36L731.60 491.36Z" fill="#f0f"/><path d="M732.99 498.43L729.24 492.36L736.74 492.36Z" fill="#f0f"/><path d="M738.15 499.32L734.40 493.24L741.90 493.24Z" fill="#f0f"/><path d="M743.31 500.08L739.56 494.01L747.06 494.01Z" fill="#f0f"/><path d="M748.49 500.73L744.74 494.65L752.24 494.65Z" fill="#f0f"/><path d="M753.67 501.23L749.92 495.16L757.42 495.16Z" fill="#f0f"/><path d="M758.86 501.59L755.11 495.51L762.61 495.51Z" fill="#f0f"/><path d="M764.07 501.84L760.32 495.76L767.82 495.76Z" fill="#f0f"/><path d="M769.28 502.06L765.53 495.99L773.03 495.99Z" fill="#f0f"/><path d="M774.51 502.27L770.76 496.19L778.26 496.19Z" fill="#f0f"/><path d="M779.74 502.43L775.99 496.35L783.49 496.35Z" fill="#f0f"/><path d="M784.99 502.54L781.24 496.47L788.74 496.47Z" fill="#f0f"/>
<polyline points="114.10,499.86 116.34,499.62 118.59,499.37 120.83,499.11 123.07,498.84 125.32,498.55 127.56,498.25 129.81,497.93 132.05,497.59 134.29,497.24 136.54,496.87 138.78,496.48 141.02,496.07 143.27,495.64 145.51,495.20 147.75,494.73 150.00,494.25 152.24,493.75 154.49,493.23 156.73,492.69 158.97,492.13 161.22,491.54 163.46,490.94 165.70,490.32 167.95,489.67 170.19,489.00 172.44,488.31 174.68,487.60 176.92,486.86 179.17,486.10 181.41,485.32 183.65,484.52 185.90,483.70 188.14,482.86 190.38,481.99 192.63,481.10 194.87,480.18 197.12,479.24 199.36,478.27 201.60,477.27 203.85,476.24 206.09,475.19 208.33,474.11 210.58,473.00 212.82,471.87 215.06,470.71 217.31,469.53 219.55,468.31 221.80,467.07 224.04,465.81 226.28,464.51 228.53,463.19 230.77,461.84 233.01,460.47 235.26,459.06 237.50,457.64 239.75,456.18 241.99,454.70 244.23,453.19 246.48,451.66 248.72,450.10 250.96,448.52 253.21,446.91 255.45,445.28 257.69,443.64 259.94,441.97 262.18,440.28 264.43,438.57 266.67,436.84 268.91,435.10 271.16,433.33 273.40,431.56 275.64,429.76 277.89,427.96 280.13,426.14 282.38,424.30 284.62,422.46 286.86,420.61 289.11,418.75 291.35,416.88 293.59,415.00 295.84,413.12 298.08,411.23 300.32,409.34 302.57,407.45 304.81,405.56 307.06,403.67 309.30,401.79 311.54,399.90 313.79,398.03 316.03,396.15 318.27,394.29 320.52,392.44 322.76,390.59 325.00,388.76 327.25,386.94 329.49,385.14 331.74,383.35 333.98,381.58 336.22,379.83 338.47,378.10 340.71,376.39 342.95,374.70 345.20,373.04 347.44,371.40 349.69,369.79 351.93,368.21 354.17,366.66 356.42,365.14 358.66,363.65 360.90,362.19 363.15,360.77 365.39,359.39 367.63,358.04 369.88,356.73 372.12,355.47 374.37,354.24 376.61,353.05 378.85,351.90 381.10,350.80 383.34,349.75 385.58,348.74 387.83,347.77 390.07,346.85 392.31,345.98 394.56,345.16 396.80,344.39 399.05,343.66 401.29,342.99 403.53,342.37 405.78,341.80 408.02,341.28 410.26,340.80 412.51,340.38 414.75,340.01 417.00,339.69 419.24,339.43 421.48,339.21 423.73,339.05 425.97,338.93 428.21,338.87 430.46,338.86 432.70,338.90 434.94,339.00 437.19,339.14 439.43,339.34 441.68,339.59 443.92,339.89 446.16,340.24 448.41,340.64 450.65,341.10 452.89,341.59 455.14,342.14 457.38,342.72 459.62,343.35 461.87,344.03 464.11,344.75 466.36,345.51 468.60,346.32 470.84,347.17 473.09,348.07 475.33,349.01 477.57,350.00 479.82,351.04 482.06,352.11 484.30,353.23 486.55,354.40 488.79,355.62 491.04,356.90 493.28,358.23 495.52,359.61 497.77,361.03 500.01,362.49 502.25,363.98 504.50,365.49 506.74,367.06 508.99,368.68 511.23,370.35 513.47,372.06 515.72,373.79 517.96,375.51 520.20,377.23 522.45,378.93 524.69,380.58 526.93,382.22 529.18,383.86 531.42,385.52 533.67,387.19 535.91,388.87 538.15,390.55 540.40,392.24 542.64,393.93 544.88,395.63 547.13,397.32 549.37,399.01 551.62,400.67 553.86,402.30 556.10,403.91 558.35,405.50 560.59,407.08 562.83,408.66 565.08,410.22 567.32,411.79 569.56,413.36 571.81,414.94 574.05,416.53 576.30,418.13 578.54,419.75 580.78,421.38 583.03,423.01 585.27,424.62 587.51,426.21 589.76,427.80 592.00,429.38 594.24,430.94 596.49,432.49 598.73,434.02 600.98,435.55 603.22,437.05 605.46,438.54 607.71,440.02 609.95,441.47 612.19,442.91 614.44,444.34 616.68,445.74 618.92,447.13 621.17,448.50 623.41,449.86 625.66,451.19 627.90,452.51 630.14,453.80 632.39,455.08 634.63,456.36 636.87,457.63 639.12,458.88 641.36,460.13 643.61,461.36 645.85,462.58 648.09,463.78 650.34,464.96 652.58,466.12 654.82,467.27 657.07,468.39 659.31,469.49 661.55,470.56 663.80,471.60 666.04,472.62 668.29,473.61 670.53,474.57 672.77,475.50 675.02,476.40 677.26,477.27 679.50,478.11 681.75,478.94 683.99,479.75 686.24,480.53 688.48,481.29 690.72,482.04 692.97,482.76 695.21,483.47 697.45,484.16 699.70,484.83 701.94,485.47 704.18,486.11 706.43,486.72 708.67,487.32 710.92,487.90 713.16,488.46 715.40,489.01 717.65,489.54 719.89,490.05 722.13,490.55 724.38,491.04 726.62,491.51 728.86,491.97 731.11,492.41 733.35,492.84 735.60,493.26 737.84,493.66 740.08,494.06 742.33,494.44 744.57,494.80 746.81,495.16 749.06,495.51 751.30,495.85 753.55,496.17 755.79,496.49 758.03,496.80 760.28,497.09 762.52,497.38 764.76,497.66 767.01,497.93 769.25,498.19 771.49,498.45 773.74,498.69 775.98,498.93 778.23,499.15 780.47,499.37 782.71,499.59 784.96,499.79 787.20,499.99" fill="none" stroke="#000" stroke-width="1.4" />
</g>
<rect x="114.1" y="30.1" width="673.10" height="474.65" fill="none" stroke="#000" stroke-width="1.55"/>
<text y="58.50" x="630.33 644.67">ρ=</text><path transform="translate(659.39,58.50)" d="M8.5 0V-18.2H6.85C6.4-16.5 4.7-15.3 2-14.95V-13.4H6.1V0Z"/>
<text y="83.82" x="616.32 630.65 659.39">ρ=0</text><path transform="translate(645.37,83.82)" d="M8.5 0V-18.2H6.85C6.4-16.5 4.7-15.3 2-14.95V-13.4H6.1V0Z"/>
<text y="109.14" x="616.32 630.65 645.37 659.39">ρ=20</text>
<text y="134.46" x="616.32 630.65 645.37 659.39">ρ=40</text>
<text y="159.78" x="616.32 630.65 645.37 659.39">ρ=80</text>
<text y="185.10" x="626.38 640.72">ρ=</text><text y="186.30" x="655.44">∞</text>
<path d="M688.1 50.40H757.0" stroke="#222" stroke-width="0.95" stroke-dasharray="1.4 2.05"/>
<path d="M688.1 75.72H757.0" stroke="#f00" stroke-width="0.8"/>
<rect x="718.80" y="71.97" width="7.50" height="7.50" fill="#f00"/>
<path d="M688.1 101.04H757.0" stroke="#0f0" stroke-width="0.8"/>
<path d="M722.55 96.84L718.80 102.91L726.30 102.91Z" fill="#0f0"/>
<path d="M688.1 126.36H757.0" stroke="#00f" stroke-width="0.8"/>
<circle cx="722.55" cy="126.36" r="3.75" fill="#00f"/>
<path d="M688.1 151.68H757.0" stroke="#f0f" stroke-width="0.8"/>
<path d="M722.55 155.88L718.80 149.81L726.30 149.81Z" fill="#f0f"/>
<path d="M688.1 177.00H757.0" stroke="#000" stroke-width="1.4"/>
</svg></body></html>
